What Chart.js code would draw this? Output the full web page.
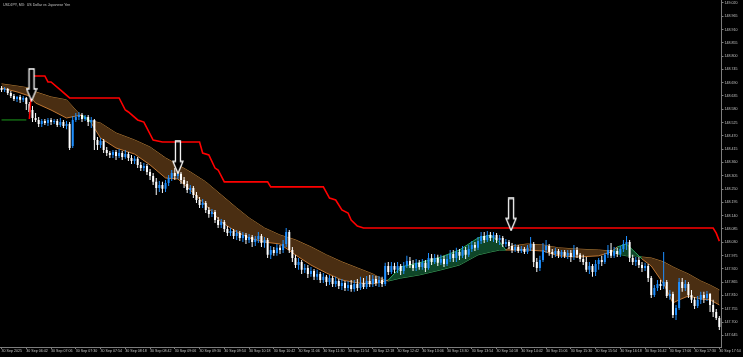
<!DOCTYPE html>
<html>
<head>
<meta charset="utf-8">
<script src="https://cdn.jsdelivr.net/npm/chart.js@4.4.1/dist/chart.umd.min.js"></script>
<style>
  html, body { margin: 0; padding: 0; background: #000; }
  #wrap { width: 743px; height: 357px; }
</style>
</head>
<body>
<div id="wrap"><canvas id="chart" width="743" height="357"></canvas></div>
<script>
const TITULO = 'USDJPY, M3:  US Dollar vs Japanese Yen';

// velas M3, una por barra (indice 0 = 06:18)
const opens = [
  148.668, 148.660, 148.664, 148.647, 148.635, 148.623, 148.631, 148.619, 148.627, 148.602,
  148.577, 148.544, 148.536, 148.519, 148.532, 148.523, 148.536, 148.527, 148.532, 148.515,
  148.527, 148.511, 148.519, 148.428, 148.536, 148.548, 148.556, 148.540, 148.548, 148.527,
  148.536, 148.453, 148.432, 148.449, 148.412, 148.399, 148.391, 148.403, 148.387, 148.399,
  148.383, 148.395, 148.379, 148.366, 148.375, 148.350, 148.337, 148.346, 148.321, 148.304,
  148.280, 148.255, 148.267, 148.251, 148.275, 148.296, 148.317, 148.304, 148.313, 148.288,
  148.271, 148.246, 148.255, 148.226, 148.205, 148.184, 148.193, 148.164, 148.147, 148.155,
  148.122, 148.102, 148.114, 148.085, 148.068, 148.077, 148.056, 148.068, 148.048, 148.060,
  148.040, 148.052, 148.031, 148.044, 148.056, 148.027, 148.040, 147.978, 147.998, 147.986,
  148.007, 147.998, 148.023, 148.073, 147.998, 147.965, 147.936, 147.949, 147.916, 147.924,
  147.899, 147.911, 147.887, 147.899, 147.874, 147.887, 147.866, 147.882, 147.858, 147.870,
  147.849, 147.862, 147.841, 147.853, 147.837, 147.858, 147.841, 147.862, 147.845, 147.870,
  147.858, 147.878, 147.862, 147.874, 147.858, 147.932, 147.907, 147.932, 147.916, 147.932,
  147.911, 147.932, 147.953, 147.936, 147.924, 147.945, 147.928, 147.945, 147.924, 147.965,
  147.949, 147.965, 147.945, 147.961, 147.940, 147.961, 147.982, 147.965, 147.990, 147.974,
  147.998, 147.978, 148.002, 148.019, 148.007, 148.035, 148.056, 148.040, 148.060, 148.048,
  148.060, 148.040, 148.048, 148.023, 148.031, 148.015, 147.998, 148.011, 147.994, 148.002,
  147.990, 148.007, 148.023, 147.949, 147.924, 147.957, 147.998, 148.015, 147.990, 147.982,
  147.994, 147.978, 147.990, 147.974, 147.986, 147.969, 147.998, 147.978, 147.961, 147.949,
  147.916, 147.932, 147.907, 147.940, 147.957, 147.949, 147.978, 147.998, 147.974, 147.994,
  147.982, 148.002, 148.023, 148.031, 147.965, 147.949, 147.957, 147.936, 147.924, 147.932,
  147.882, 147.812, 147.841, 147.858, 147.849, 147.866, 147.808, 147.816, 147.729, 147.758,
  147.866, 147.841, 147.858, 147.812, 147.792, 147.767, 147.792, 147.812, 147.800, 147.816,
  147.771, 147.742, 147.717
];
const highs = [
  148.676, 148.672, 148.668, 148.656, 148.643, 148.635, 148.639, 148.635, 148.631, 148.610,
  148.594, 148.565, 148.548, 148.540, 148.540, 148.544, 148.544, 148.540, 148.540, 148.544,
  148.536, 148.532, 148.527, 148.552, 148.565, 148.569, 148.565, 148.556, 148.556, 148.548,
  148.540, 148.465, 148.461, 148.457, 148.424, 148.408, 148.412, 148.412, 148.416, 148.408,
  148.412, 148.403, 148.391, 148.387, 148.383, 148.362, 148.358, 148.354, 148.333, 148.317,
  148.296, 148.284, 148.280, 148.288, 148.308, 148.329, 148.337, 148.317, 148.321, 148.300,
  148.284, 148.267, 148.263, 148.238, 148.217, 148.209, 148.201, 148.176, 148.168, 148.164,
  148.135, 148.126, 148.122, 148.097, 148.089, 148.085, 148.081, 148.077, 148.073, 148.068,
  148.064, 148.060, 148.056, 148.073, 148.064, 148.052, 148.048, 148.015, 148.011, 148.023,
  148.019, 148.040, 148.089, 148.081, 148.011, 147.978, 147.965, 147.957, 147.940, 147.936,
  147.928, 147.920, 147.916, 147.907, 147.903, 147.895, 147.895, 147.891, 147.887, 147.878,
  147.878, 147.870, 147.870, 147.874, 147.874, 147.878, 147.887, 147.882, 147.891, 147.895,
  147.895, 147.891, 147.891, 147.887, 147.945, 147.949, 147.949, 147.945, 147.949, 147.940,
  147.949, 147.974, 147.969, 147.957, 147.961, 147.957, 147.961, 147.957, 147.986, 147.982,
  147.982, 147.978, 147.978, 147.974, 147.978, 147.998, 147.998, 148.007, 148.002, 148.015,
  148.011, 148.019, 148.035, 148.031, 148.052, 148.073, 148.073, 148.077, 148.073, 148.073,
  148.068, 148.060, 148.056, 148.044, 148.040, 148.027, 148.023, 148.019, 148.015, 148.011,
  148.019, 148.052, 148.031, 147.965, 147.974, 148.027, 148.040, 148.023, 148.002, 148.007,
  148.002, 147.998, 147.998, 147.998, 147.998, 148.019, 148.011, 147.986, 147.978, 147.969,
  147.949, 147.940, 147.957, 147.965, 147.974, 147.986, 148.019, 148.027, 148.011, 148.007,
  148.015, 148.040, 148.056, 148.040, 147.978, 147.969, 147.969, 147.949, 147.945, 147.940,
  147.891, 147.853, 147.874, 147.874, 147.990, 147.874, 147.833, 147.825, 147.771, 147.882,
  147.882, 147.874, 147.866, 147.833, 147.804, 147.808, 147.825, 147.825, 147.829, 147.820,
  147.792, 147.754, 147.725
];
const lows = [
  148.652, 148.652, 148.639, 148.627, 148.614, 148.610, 148.606, 148.610, 148.577, 148.561,
  148.527, 148.527, 148.507, 148.507, 148.515, 148.511, 148.515, 148.519, 148.507, 148.507,
  148.503, 148.498, 148.412, 148.420, 148.527, 148.536, 148.527, 148.532, 148.511, 148.503,
  148.412, 148.412, 148.420, 148.399, 148.387, 148.379, 148.379, 148.370, 148.379, 148.370,
  148.375, 148.366, 148.354, 148.354, 148.337, 148.325, 148.325, 148.308, 148.288, 148.267,
  148.226, 148.238, 148.234, 148.238, 148.263, 148.284, 148.288, 148.292, 148.271, 148.255,
  148.234, 148.230, 148.213, 148.193, 148.172, 148.172, 148.151, 148.131, 148.135, 148.110,
  148.089, 148.089, 148.073, 148.056, 148.056, 148.044, 148.040, 148.035, 148.031, 148.023,
  148.027, 148.011, 148.015, 148.027, 148.011, 148.007, 147.965, 147.961, 147.974, 147.974,
  147.982, 147.986, 148.011, 147.986, 147.949, 147.924, 147.916, 147.899, 147.903, 147.882,
  147.887, 147.874, 147.874, 147.862, 147.862, 147.849, 147.853, 147.845, 147.845, 147.837,
  147.833, 147.829, 147.829, 147.825, 147.825, 147.829, 147.833, 147.837, 147.837, 147.845,
  147.845, 147.849, 147.845, 147.845, 147.849, 147.895, 147.899, 147.903, 147.903, 147.895,
  147.899, 147.924, 147.924, 147.911, 147.911, 147.916, 147.916, 147.907, 147.916, 147.936,
  147.940, 147.932, 147.936, 147.928, 147.932, 147.949, 147.949, 147.949, 147.957, 147.965,
  147.961, 147.969, 147.990, 147.994, 147.998, 148.023, 148.027, 148.031, 148.035, 148.031,
  148.027, 148.019, 148.011, 148.011, 148.002, 147.986, 147.990, 147.986, 147.986, 147.982,
  147.982, 147.994, 147.928, 147.907, 147.911, 147.949, 147.986, 147.974, 147.965, 147.969,
  147.965, 147.965, 147.965, 147.961, 147.949, 147.957, 147.965, 147.949, 147.936, 147.907,
  147.899, 147.887, 147.891, 147.916, 147.932, 147.940, 147.965, 147.965, 147.965, 147.969,
  147.969, 147.990, 147.998, 147.949, 147.936, 147.932, 147.924, 147.907, 147.911, 147.866,
  147.800, 147.804, 147.829, 147.833, 147.837, 147.800, 147.792, 147.717, 147.709, 147.750,
  147.825, 147.829, 147.800, 147.779, 147.754, 147.758, 147.775, 147.779, 147.787, 147.742,
  147.721, 147.709, 147.667
];
const closes = [
  148.660, 148.664, 148.647, 148.635, 148.623, 148.631, 148.619, 148.627, 148.602, 148.569,
  148.544, 148.536, 148.519, 148.532, 148.523, 148.536, 148.527, 148.532, 148.515, 148.527,
  148.511, 148.519, 148.420, 148.536, 148.548, 148.556, 148.540, 148.548, 148.527, 148.536,
  148.453, 148.432, 148.449, 148.412, 148.399, 148.391, 148.403, 148.387, 148.399, 148.383,
  148.395, 148.379, 148.366, 148.375, 148.350, 148.337, 148.346, 148.321, 148.304, 148.280,
  148.255, 148.267, 148.251, 148.275, 148.296, 148.317, 148.304, 148.313, 148.288, 148.271,
  148.246, 148.255, 148.226, 148.205, 148.184, 148.193, 148.164, 148.147, 148.155, 148.122,
  148.102, 148.114, 148.085, 148.068, 148.077, 148.056, 148.068, 148.048, 148.060, 148.040,
  148.052, 148.031, 148.044, 148.056, 148.027, 148.040, 147.978, 147.998, 147.986, 148.007,
  147.998, 148.023, 148.073, 147.998, 147.965, 147.936, 147.949, 147.916, 147.924, 147.899,
  147.911, 147.887, 147.899, 147.874, 147.887, 147.866, 147.882, 147.858, 147.870, 147.849,
  147.862, 147.841, 147.853, 147.837, 147.858, 147.841, 147.862, 147.845, 147.870, 147.858,
  147.878, 147.862, 147.874, 147.858, 147.932, 147.907, 147.932, 147.916, 147.932, 147.911,
  147.932, 147.953, 147.936, 147.924, 147.945, 147.928, 147.945, 147.924, 147.965, 147.949,
  147.965, 147.945, 147.961, 147.940, 147.961, 147.982, 147.965, 147.990, 147.974, 147.998,
  147.978, 148.002, 148.019, 148.007, 148.035, 148.056, 148.040, 148.060, 148.048, 148.060,
  148.040, 148.048, 148.023, 148.031, 148.015, 147.998, 148.011, 147.994, 148.002, 147.990,
  148.007, 148.023, 147.949, 147.924, 147.957, 147.998, 148.015, 147.990, 147.982, 147.994,
  147.978, 147.990, 147.974, 147.986, 147.969, 147.998, 147.978, 147.961, 147.949, 147.916,
  147.932, 147.907, 147.940, 147.957, 147.949, 147.978, 147.998, 147.974, 147.994, 147.982,
  148.002, 148.023, 148.031, 147.965, 147.949, 147.957, 147.936, 147.924, 147.932, 147.882,
  147.812, 147.841, 147.858, 147.849, 147.866, 147.808, 147.816, 147.729, 147.758, 147.866,
  147.841, 147.858, 147.812, 147.792, 147.767, 147.792, 147.812, 147.800, 147.816, 147.771,
  147.742, 147.717, 147.680
];

// nube entre media rapida y lenta (vertices)
const maIdx = [0, 5, 9, 11, 16, 21, 24, 26, 28, 29, 32, 37, 43, 48, 53, 57, 61, 66, 71, 76,
  80, 85, 90, 95, 100, 105, 110, 115, 120, 123, 125, 129, 135, 142, 148, 154, 158, 161, 163, 165,
  170, 175, 180, 186, 193, 197, 199, 202, 205, 207, 210, 214, 217, 219, 222, 226, 229, 232];
const maSlow = [148.685, 148.676, 148.668, 148.652, 148.631, 148.619, 148.577, 148.548, 148.536, 148.532,
  148.523, 148.482, 148.453, 148.424, 148.379, 148.350, 148.321, 148.280, 148.226, 148.172,
  148.131, 148.089, 148.060, 148.040, 148.011, 147.978, 147.949, 147.924, 147.899, 147.878,
  147.870, 147.882, 147.895, 147.916, 147.936, 147.978, 147.990, 147.998, 147.998, 148.015,
  148.023, 148.019, 148.007, 148.002, 147.998, 147.994, 147.982, 147.974, 147.974, 147.969,
  147.965, 147.949, 147.928, 147.916, 147.899, 147.870, 147.853, 147.833];
const maFast = [148.668, 148.652, 148.635, 148.606, 148.577, 148.544, 148.552, 148.556, 148.540, 148.523,
  148.461, 148.420, 148.395, 148.350, 148.296, 148.292, 148.246, 148.184, 148.114, 148.073,
  148.048, 148.031, 148.023, 147.978, 147.936, 147.903, 147.874, 147.862, 147.858, 147.866,
  147.874, 147.928, 147.945, 147.969, 147.998, 148.048, 148.060, 148.031, 147.998, 147.998,
  147.998, 147.994, 147.974, 147.969, 147.974, 147.990, 148.011, 148.023, 147.986, 147.961,
  147.932, 147.858, 147.779, 147.792, 147.808, 147.796, 147.792, 147.771];

// stop rojo y verde
const redIdx = [9, 10, 14, 15, 16, 19, 22, 38, 40, 41, 44, 46, 49, 52, 64, 65, 67, 69, 70, 72,
  86, 87, 104, 106, 108, 110, 112, 113, 115, 117, 230, 231, 232];
const redVal = [148.540, 148.718, 148.718, 148.693, 148.693, 148.660, 148.627, 148.627, 148.577, 148.569,
  148.536, 148.527, 148.453, 148.445, 148.445, 148.399, 148.391, 148.337, 148.329, 148.280,
  148.280, 148.259, 148.259, 148.213, 148.205, 148.164, 148.151, 148.122, 148.097, 148.089,
  148.089, 148.068, 148.035];
const greenIdx = [0, 8];
const greenVal = [148.536, 148.536];

// flechas de senal
const arrowIdx = [9.7, 57, 164.7];
const arrowVal = [148.681, 148.381, 148.145];

// ejes
const yTicks = [147.645, 147.700, 147.755, 147.810, 147.865, 147.920, 147.975, 148.030, 148.085, 148.140,
  148.195, 148.250, 148.305, 148.360, 148.415, 148.470, 148.525, 148.580, 148.635, 148.690,
  148.745, 148.800, 148.855, 148.910, 148.965, 149.020];
const timeIdx = [0, 8, 16, 24, 32, 40, 48, 56, 64, 72, 80, 88, 96, 104, 112, 120, 128, 136, 144, 152,
  160, 168, 176, 184, 192, 200, 208, 216, 224, 232];
const timeLabels = ['30 Sep 2025', '30 Sep 06:42', '30 Sep 07:06', '30 Sep 07:30', '30 Sep 07:54',
  '30 Sep 08:18', '30 Sep 08:42', '30 Sep 09:06', '30 Sep 09:30', '30 Sep 09:54', '30 Sep 10:18',
  '30 Sep 10:42', '30 Sep 11:06', '30 Sep 11:30', '30 Sep 11:54', '30 Sep 12:18', '30 Sep 12:42',
  '30 Sep 13:06', '30 Sep 13:30', '30 Sep 13:54', '30 Sep 14:18', '30 Sep 14:42', '30 Sep 15:06',
  '30 Sep 15:30', '30 Sep 15:54', '30 Sep 16:18', '30 Sep 16:42', '30 Sep 17:06', '30 Sep 17:30',
  '30 Sep 17:54'];

const AZUL = '#1e8fff';
const BLANCO = '#ffffff';
const NARANJA = '#c07632';
const VERDE = '#2ea862';
const EJE = '#7c7c7c';
const TEXTO = '#c4c4c4';
const FUENTE = { family: 'Liberation Sans', size: 3.6 };

function crearFlecha() {
  const c = document.createElement('canvas');
  c.width = 12;
  c.height = 34;
  const g = c.getContext('2d');
  g.beginPath();
  g.moveTo(3.5, 1);
  g.lineTo(8.5, 1);
  g.lineTo(8.5, 21);
  g.lineTo(11, 21);
  g.lineTo(6, 33);
  g.lineTo(1, 21);
  g.lineTo(3.5, 21);
  g.closePath();
  g.fillStyle = '#000';
  g.fill();
  g.strokeStyle = '#fff';
  g.lineWidth = 1.3;
  g.stroke();
  return c;
}

const colorVela = closes.map((c, i) => c >= opens[i] ? AZUL : BLANCO);
const colorMedia = ctx => maFast[ctx.p0DataIndex] > maSlow[ctx.p0DataIndex] ? VERDE : NARANJA;

const titulo = {
  id: 'titulo',
  afterDraw(chart) {
    const ctx = chart.ctx;
    ctx.save();
    ctx.font = '3.6px "Liberation Sans"';
    ctx.fillStyle = TEXTO;
    ctx.textBaseline = 'top';
    ctx.fillText(TITULO, 3, 3);
    ctx.restore();
  }
};

new Chart(document.getElementById('chart'), {
  type: 'bar',
  data: {
    datasets: [
      {
        type: 'line',
        data: maIdx.map((x, i) => ({ x, y: maSlow[i] })),
        borderColor: NARANJA,
        borderWidth: 1,
        pointRadius: 0,
        fill: false,
        segment: { borderColor: colorMedia },
        order: 6
      },
      {
        type: 'line',
        data: maIdx.map((x, i) => ({ x, y: maFast[i] })),
        borderColor: NARANJA,
        borderWidth: 1,
        pointRadius: 0,
        fill: { target: 0, above: 'rgb(14, 70, 40)', below: 'rgb(74, 46, 18)' },
        segment: { borderColor: colorMedia },
        order: 5
      },
      {
        data: lows.map((l, i) => ({ x: i, y: [l, highs[i]] })),
        backgroundColor: colorVela,
        borderWidth: 0,
        inflateAmount: 0,
        barThickness: 1,
        grouped: false,
        order: 3
      },
      {
        data: opens.map((o, i) => ({ x: i, y: [o, closes[i]] })),
        backgroundColor: colorVela,
        borderWidth: 0,
        inflateAmount: 0,
        barThickness: 2,
        grouped: false,
        order: 2
      },
      {
        type: 'line',
        data: greenIdx.map((x, i) => ({ x, y: greenVal[i] })),
        borderColor: '#1c9c1c',
        borderWidth: 1,
        pointRadius: 0,
        fill: false,
        order: 1
      },
      {
        type: 'line',
        data: redIdx.map((x, i) => ({ x, y: redVal[i] })),
        borderColor: '#ff0000',
        borderWidth: 1.6,
        pointRadius: 0,
        fill: false,
        order: 1
      },
      {
        type: 'line',
        data: arrowIdx.map((x, i) => ({ x, y: arrowVal[i] })),
        showLine: false,
        pointStyle: crearFlecha(),
        pointRadius: 6,
        order: 0
      }
    ]
  },
  options: {
    responsive: false,
    devicePixelRatio: 1,
    animation: false,
    layout: { padding: 0, autoPadding: false },
    plugins: {
      legend: { display: false },
      tooltip: { enabled: false }
    },
    scales: {
      x: {
        type: 'linear',
        min: -0.5,
        max: 232.7,
        offset: false,
        grid: { offset: false, drawOnChartArea: false, drawTicks: true, tickLength: 2, color: EJE },
        border: { display: true, color: EJE },
        ticks: {
          color: TEXTO,
          font: FUENTE,
          padding: 0,
          align: 'start',
          autoSkip: false,
          maxRotation: 0,
          minRotation: 0,
          callback: (v, i) => timeLabels[i]
        },
        afterBuildTicks: s => { s.ticks = timeIdx.map(v => ({ value: v })); },
        afterFit: s => { s.height = 10; s.paddingLeft = 0; s.paddingRight = 0; }
      },
      y: {
        position: 'right',
        min: 147.597,
        max: 149.032,
        beginAtZero: false,
        grid: { drawOnChartArea: false, drawTicks: true, tickLength: 2, color: EJE },
        border: { display: true, color: EJE },
        ticks: {
          color: TEXTO,
          font: FUENTE,
          padding: 1,
          callback: v => v.toFixed(3)
        },
        afterBuildTicks: s => { s.ticks = yTicks.map(v => ({ value: v })); },
        afterFit: s => { s.width = 21.5; s.paddingTop = 0; s.paddingBottom = 0; }
      }
    }
  },
  plugins: [titulo]
});
</script>
</body>
</html>
